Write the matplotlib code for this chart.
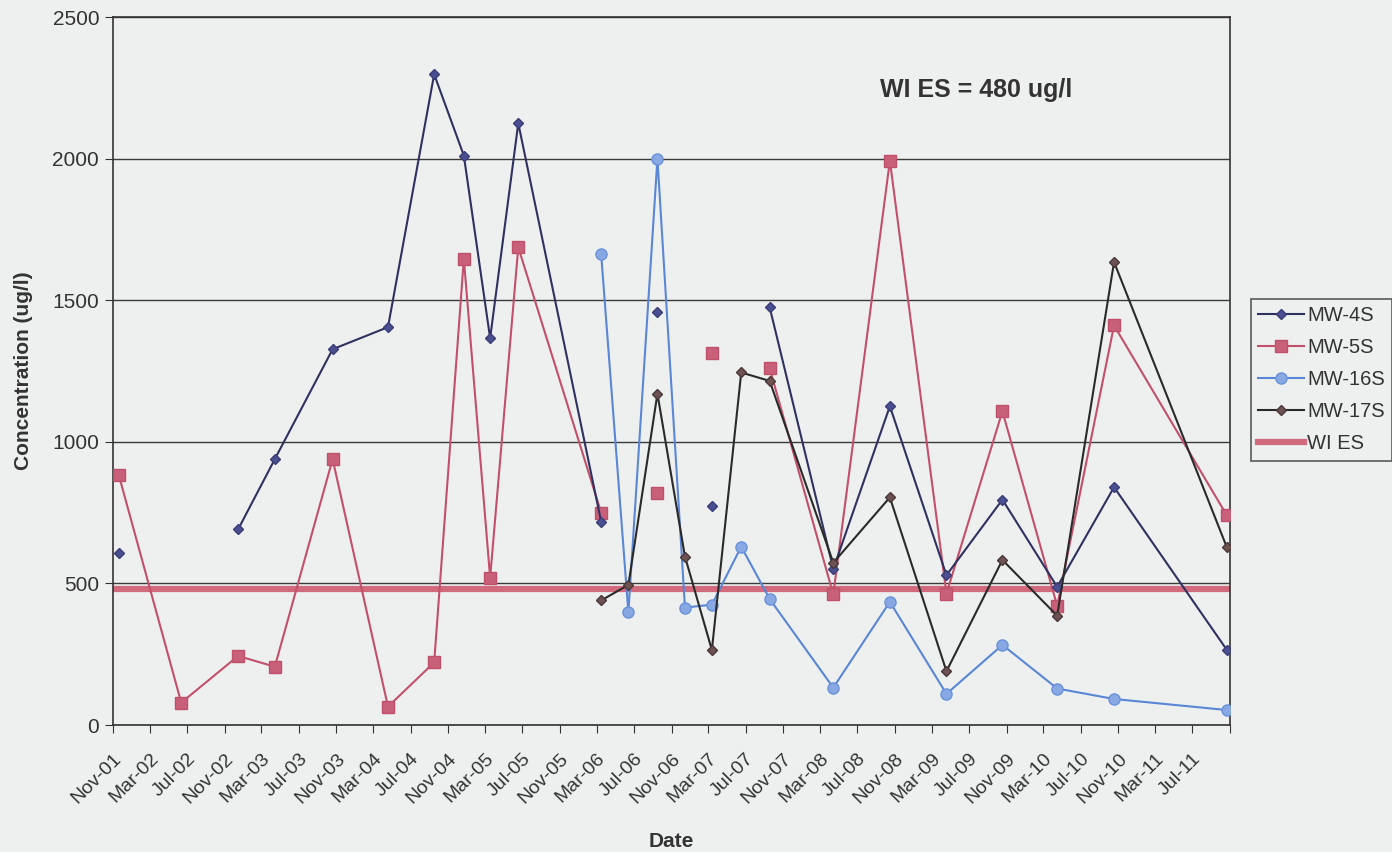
import numpy as np
import pandas as pd
import matplotlib
matplotlib.use("Agg")
import matplotlib.pyplot as plt

plt.rcParams['font.family'] = ['Liberation Sans', 'DejaVu Sans']

# -------------------------------
# Data
# -------------------------------
dates = pd.to_datetime([
    "2001-11-20", "2002-06-12", "2002-12-15", "2003-04-14", "2003-10-20",
    "2004-04-18", "2004-09-16", "2004-12-22", "2005-03-18", "2005-06-18",
    "2006-03-16", "2006-06-13", "2006-09-16", "2006-12-15", "2007-03-13",
    "2007-06-17", "2007-09-18", "2008-04-13", "2008-10-15", "2009-04-18",
    "2009-10-18", "2010-04-15", "2010-10-18", "2011-10-22",
])

nan = np.nan
mw4s = [606, nan, 691, 939, 1327, 1405, 2298, 2011, 1366, 2125,
        718, nan, 1460, nan, 775, nan, 1475, 551, 1126, 529,
        796, 488, 840, 265]
mw5s = [882, 79, 244, 206, 939, 65, 221, 1646, 520, 1687,
        750, nan, 820, nan, 1315, nan, 1260, 461, 1993, 464,
        1108, 421, 1411, 740]
mw16s = [nan, nan, nan, nan, nan, nan, nan, nan, nan, nan,
         1663, 398, 2000, 415, 425, 630, 445, 132, 435, 110,
         283, 129, 92, 53]
mw17s = [nan, nan, nan, nan, nan, nan, nan, nan, nan, nan,
         440, 495, 1170, 595, 265, 1245, 1215, 573, 804, 190,
         583, 386, 1635, 627]
wi_es = 480

tick_dates = pd.date_range("2001-11-01", "2011-11-01", freq="4MS")
tick_labels = [d.strftime("%b-%y") for d in tick_dates[:-1]] + [""]

# -------------------------------
# Plot
# -------------------------------
bg = "#eef0f0"
txt = "#333333"
fig = plt.figure(figsize=(13.92, 8.52), dpi=100, facecolor=bg)
ax = fig.add_axes([0.0812, 0.149, 0.8024, 0.831], facecolor=bg)

ax.plot(dates, mw4s, color="#2f3160", lw=1.5, marker="D", ms=5.5,
        mfc="#4a4f90", mec="#3a3d78", label="MW-4S", zorder=4)
ax.plot(dates, mw5s, color="#c2506a", lw=1.5, marker="s", ms=8,
        mfc="#c8607a", mec="#c0506a", label="MW-5S", zorder=3)
ax.plot(dates, mw16s, color="#5a86d6", lw=1.5, marker="o", ms=8,
        mfc="#88a8e4", mec="#6a92da", label="MW-16S", zorder=3)
ax.plot(dates, mw17s, color="#2a2a2a", lw=1.5, marker="D", ms=5.5,
        mfc="#6e5252", mec="#4a3838", label="MW-17S", zorder=4)
ax.plot([tick_dates[0], dates[-1]], [wi_es, wi_es], color="#d06a7c",
        lw=4.5, label="WI ES", zorder=2)

ax.set_ylim(0, 2500)
ax.set_yticks(np.arange(0, 2501, 500))
ax.set_xlim(tick_dates[0], tick_dates[-1])
ax.set_xticks(tick_dates)
ax.set_xticklabels(tick_labels, rotation=45, ha="right",
                   rotation_mode="anchor", fontsize=14, color=txt)
ax.tick_params(axis="y", labelsize=15, colors=txt, length=6, pad=4)
ax.tick_params(axis="x", length=6, color=txt, pad=12)
ax.yaxis.grid(True, color="#3a3a3a", lw=1.0)
ax.set_axisbelow(True)
for s in ax.spines.values():
    s.set_color(txt)
    s.set_linewidth(1.2)

ax.set_ylabel("Concentration (ug/l)", fontsize=15, fontweight="bold",
              color=txt, labelpad=14)
ax.set_xlabel("Date", fontsize=15, fontweight="bold", color=txt,
              labelpad=18)

ax.text(0.687, 0.897, "WI ES = 480 ug/l", transform=ax.transAxes,
        fontsize=18, fontweight="bold", color=txt, va="center")

leg = fig.legend(loc="upper left", bbox_to_anchor=(0.8985, 0.649),
                 fontsize=14.5, frameon=True, fancybox=False,
                 handlelength=2.3, handletextpad=0.15, labelspacing=0.65,
                 borderpad=0.35, borderaxespad=0)
leg.get_frame().set_edgecolor(txt)
leg.get_frame().set_facecolor(bg)
leg.get_frame().set_linewidth(1.2)
for t in leg.get_texts():
    t.set_color(txt)

fig.savefig("out.png", dpi=100, facecolor=bg)
